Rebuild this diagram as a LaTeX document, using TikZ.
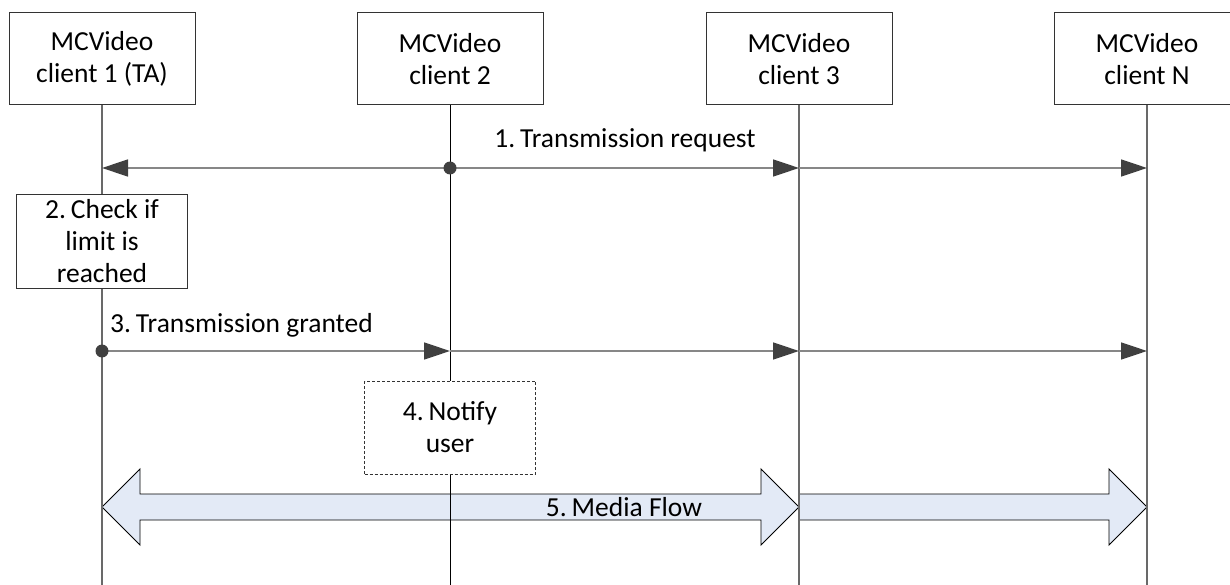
\documentclass[tikz,border=0pt]{standalone}
\usepackage{fontspec}
\setmainfont{Carlito}
\usetikzlibrary{arrows.meta}
\definecolor{lifegray}{RGB}{105,105,105}
\definecolor{msggray}{RGB}{135,135,135}
\definecolor{headgray}{RGB}{64,64,64}
\definecolor{flowblue}{RGB}{227,234,246}
\begin{document}
\begin{tikzpicture}[x=1pt,y=-1pt,
  every node/.style={font=\fontsize{27.5}{32}\selectfont, align=center, inner sep=0pt, text=black},
  actor/.style={draw=black!80, line width=1pt, fill=white, minimum width=186pt, minimum height=92pt},
  procbox/.style={draw=black!80, line width=1pt, fill=white, minimum width=171pt, minimum height=93pt},
  dashbox/.style={draw=black!80, line width=0.9pt, dash pattern=on 3pt off 2pt, fill=white, minimum width=171pt, minimum height=93pt},
  life/.style={draw=lifegray, line width=1.1pt},
  lifedark/.style={draw=black, line width=0.9pt},
  msg/.style={draw=msggray, line width=1.4pt, -{Triangle[length=26pt,width=17pt,color=headgray]}},
  flow/.style={draw=black, line width=0.9pt, fill=flowblue, line join=miter},
  dotstyle/.style={fill=headgray}
]
\clip (0,0) rectangle (1230,585);
\useasboundingbox (0,0) rectangle (1230,585);

% coordinates
\coordinate (b1) at (102,585);
\coordinate (b2) at (450,585);
\coordinate (b3) at (799,585);
\coordinate (bN) at (1147,585);
\coordinate (r1l1) at (102,168);
\coordinate (r1l2) at (450,168);
\coordinate (r1l3) at (799,168);
\coordinate (r1lN) at (1147,168);
\coordinate (r3l1) at (102,351);
\coordinate (r3l2) at (450,351);
\coordinate (r3l3) at (799,351);
\coordinate (r3lN) at (1147,351);

% media flow arrows
\draw[flow] (799,494) -- (1109,494) -- (1109,469) -- (1147,507) -- (1109,545) -- (1109,520) -- (799,520) -- cycle;
\draw[flow] (102,507) -- (140,469) -- (140,494) -- (761,494) -- (761,469) -- (799,507) -- (761,545) -- (761,520) -- (140,520) -- (140,545) -- cycle;

% actors
\node[actor] (a1) at (102,59) {MCVideo\\client 1 (TA)};
\node[actor] (a2) at (450,59) {MCVideo\\client 2};
\node[actor] (a3) at (799,59) {MCVideo\\client 3};
\node[actor] (aN) at (1147,59) {MCVideo\\client N};

% lifelines
\draw[life] (a1.south) -- (b1);
\draw[lifedark] (a2.south) -- (b2);
\draw[life] (a3.south) -- (b3);
\draw[life] (aN.south) -- (bN);

% step 1
\draw[msg] (r1l2) -- (r1l1);
\draw[msg] (r1l2) -- (r1l3);
\draw[msg] (r1l3) -- (r1lN);
\fill[dotstyle] (r1l2) circle (6.5);
\node[anchor=base] (m1) at (625,148) {1.\hspace{0.18em}Transmission request};

% step 2
\node[procbox] (chk) at (102,241.5) {2.\hspace{0.18em}Check if\\limit is\\reached};

% step 3
\draw[msg] (r3l1) -- (r3l2);
\draw[msg] (r3l2) -- (r3l3);
\draw[msg] (r3l3) -- (r3lN);
\fill[dotstyle] (r3l1) circle (6.5);
\node[anchor=base west] (m3) at (110,332) {3.\hspace{0.18em}Transmission granted};

% step 4
\node[dashbox] (ntf) at (450,427.5) {4.\hspace{0.18em}Notify\\user};

% step 5
\node[anchor=base] (m5) at (624,516) {5.\hspace{0.18em}Media Flow};
\end{tikzpicture}
\end{document}
